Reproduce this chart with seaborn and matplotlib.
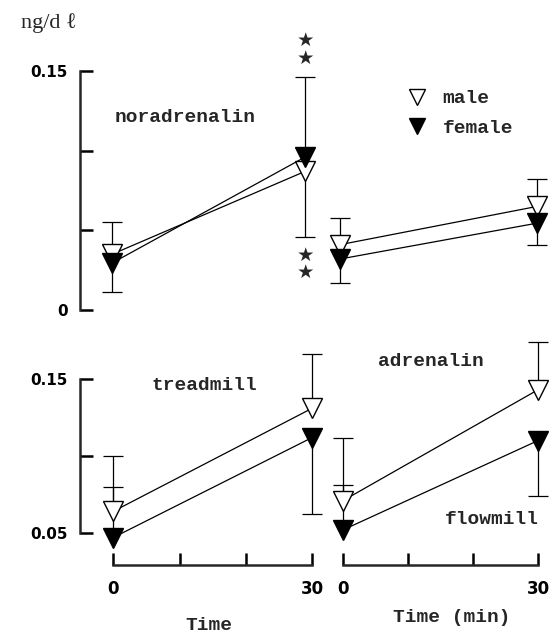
import numpy as np
import pandas as pd
import matplotlib
matplotlib.use('Agg')
import matplotlib.pyplot as plt
from matplotlib.lines import Line2D
import seaborn as sns

# data (ng/dl), time in min
times = [0, 30]

nor_tread_male = [0.035, 0.087]
nor_tread_female = [0.0295, 0.096]
nor_flow_male = [0.041, 0.065]
nor_flow_female = [0.032, 0.0545]

adr_tread_male = [0.064, 0.131]
adr_tread_female = [0.047, 0.112]
adr_flow_male = [0.071, 0.143]
adr_flow_female = [0.052, 0.110]

# one sided error bars (lower, upper)
nor_tread_male_err = ([0, 0.041], [0.020, 0])
nor_tread_female_err = ([0.0185, 0], [0, 0.050])
nor_flow_male_err = ([0, 0], [0.017, 0.017])
nor_flow_female_err = ([0.015, 0.0135], [0, 0])

adr_tread_male_err = ([0, 0], [0.036, 0.035])
adr_tread_female_err = ([0, 0.050], [0.033, 0])
adr_flow_male_err = ([0, 0], [0.041, 0.031])
adr_flow_female_err = ([0, 0.036], [0.029, 0])

sex_faces = {'male': 'white', 'female': 'black'}

sns.set_style('ticks')
mono = ['Liberation Mono', 'DejaVu Serif']
num_font = dict(family='DejaVu Sans', weight='bold')

W, H = 560, 633
fig = plt.figure(figsize=(W / 100, H / 100), dpi=100)


def px_axes(left, top, right, bottom):
    return fig.add_axes([left / W, 1 - bottom / H, (right - left) / W, (bottom - top) / H])


def draw_series(ax, vals, err, sex):
    df = pd.DataFrame({'time': times, 'value': vals})
    lo, hi = np.array(err[0]), np.array(err[1])
    v = np.array(vals)
    t = np.array(times)
    ax.vlines(t, v - lo, v + hi, colors='black', lw=0.9, zorder=2, clip_on=False)
    ends_t = np.concatenate([t[hi > 0], t[lo > 0]])
    ends_v = np.concatenate([(v + hi)[hi > 0], (v - lo)[lo > 0]])
    ax.plot(ends_t, ends_v, ls='none', marker='_', ms=14, mew=0.9, color='black', clip_on=False, zorder=2)
    sns.lineplot(data=df, x='time', y='value', ax=ax, color='black', lw=0.9,
                 marker='v', markersize=14, markerfacecolor=sex_faces[sex],
                 markeredgecolor='black', markeredgewidth=1.0, legend=False, zorder=4)
    for ln in ax.lines[-1:]:
        ln.set_clip_on(False)


# axes: top row noradrenalin, bottom row adrenalin; left treadmill, right flowmill
ax_tl = px_axes(80, 71, 311.5, 310)
ax_tr = px_axes(333.4, 71, 543.6, 310)
ax_bl = px_axes(80, 379, 318.8, 565)
ax_br = px_axes(336.5, 379, 544.5, 565)

for ax in [ax_tl, ax_bl]:
    ax.set_xlim(-5, 31)
for ax in [ax_tr, ax_br]:
    ax.set_xlim(-1, 31)
for ax in [ax_tl, ax_tr]:
    ax.set_ylim(0, 0.15)
for ax in [ax_bl, ax_br]:
    ax.set_ylim(0.0292, 0.15)

draw_series(ax_tl, nor_tread_male, nor_tread_male_err, 'male')
draw_series(ax_tl, nor_tread_female, nor_tread_female_err, 'female')
draw_series(ax_tr, nor_flow_male, nor_flow_male_err, 'male')
draw_series(ax_tr, nor_flow_female, nor_flow_female_err, 'female')
draw_series(ax_bl, adr_tread_male, adr_tread_male_err, 'male')
draw_series(ax_bl, adr_tread_female, adr_tread_female_err, 'female')
draw_series(ax_br, adr_flow_male, adr_flow_male_err, 'male')
draw_series(ax_br, adr_flow_female, adr_flow_female_err, 'female')

for ax in [ax_tl, ax_tr, ax_bl, ax_br]:
    ax.set_facecolor('none')
    ax.set_xlabel('')
    ax.set_ylabel('')
    for s in ['top', 'right']:
        ax.spines[s].set_visible(False)
    for s in ['left', 'bottom']:
        ax.spines[s].set_linewidth(1.8)
    ax.tick_params(direction='in', length=9, width=1.8, colors='black')

# y axes
ax_tl.spines['left'].set_bounds(0, 0.15)
ax_tl.set_yticks([0, 0.05, 0.10, 0.15])
ax_tl.set_yticklabels(['0', '', '', '0.15'], **num_font, fontsize=11)
ax_bl.spines['left'].set_bounds(0.05, 0.15)
ax_bl.set_yticks([0.05, 0.10, 0.15])
ax_bl.set_yticklabels(['0.05', '', '0.15'], **num_font, fontsize=11)
for ax in [ax_tl, ax_bl]:
    ax.tick_params(axis='y', pad=9)
for ax in [ax_tr, ax_br]:
    ax.spines['left'].set_visible(False)
    ax.set_yticks([])

# x axes
ax_tl.spines['bottom'].set_visible(False)
ax_tr.spines['bottom'].set_visible(False)
ax_tl.set_xticks([])
ax_tr.set_xticks([])
for ax in [ax_bl, ax_br]:
    ax.spines['bottom'].set_bounds(0, 30)
    ax.set_xticks([0, 10, 20, 30])
    ax.set_xticklabels(['0', '', '', '30'], **num_font, fontsize=12)
    ax.tick_params(axis='x', pad=11)

# significance stars at treadmill 30 min (noradrenalin)
for y in [0.169, 0.158, 0.0345, 0.0235]:
    ax_tl.text(30, y, '\u2605', ha='center', va='center', fontsize=14,
               family='DejaVu Sans', clip_on=False)

# labels
txt = dict(family=mono, fontsize=14, weight='bold', ha='center', va='center')
fig.text(49 / W, 1 - 23 / H, 'ng/d \u2113', family=['Liberation Serif', 'Noto Sans CJK JP'],
         fontsize=16, va='center', ha='center')
fig.text(185 / W, 1 - 117 / H, 'noradrenalin', **txt)
fig.text(204 / W, 1 - 385 / H, 'treadmill', **txt)
fig.text(431 / W, 1 - 362 / H, 'adrenalin', **txt)
fig.text(492 / W, 1 - 520 / H, 'flowmill', **txt)
fig.text(209 / W, 1 - 625 / H, 'Time', **txt)
fig.text(452 / W, 1 - 618 / H, 'Time (min)', **txt)

handles = [Line2D([], [], ls='none', marker='v', ms=11, mfc=sex_faces[s], mec='black', mew=1.0)
           for s in ['male', 'female']]
fig.legend(handles, ['male', 'female'], loc='upper left', bbox_to_anchor=(396 / W, 1 - 80 / H),
           frameon=False, borderpad=0, handlelength=1.2, handletextpad=0.7, labelspacing=0.6,
           prop={'family': mono, 'size': 14, 'weight': 'bold'})

fig.savefig('out.png', dpi=100)
